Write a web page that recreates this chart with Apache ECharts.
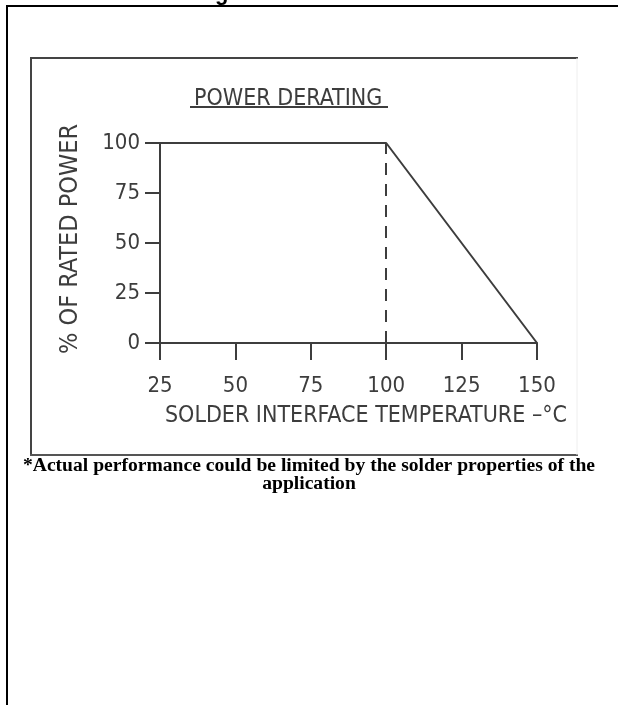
<!DOCTYPE html>
<html>
<head>
<meta charset="utf-8">
<title>Power Derating</title>
<script src="https://cdn.jsdelivr.net/npm/echarts@6/dist/echarts.min.js"></script>
<style>
  html, body { margin: 0; padding: 0; background: #fff; }
  #main { width: 618px; height: 705px; }
</style>
</head>
<body>
<div id="main"></div>
<script>
(function (echarts) {

  'use strict';

  // temperature (degC) -> % of rated power
  var temps = [25, 100, 150];
  var power = [100, 100, 0];
  var kneeTemp = 100;

  var xTicks = [25, 50, 75, 100, 125, 150];
  var yTicks = [0, 25, 50, 75, 100];

  var chartTitle = 'POWER DERATING';
  var xName = 'SOLDER INTERFACE TEMPERATURE –°C';
  var yName = '% OF RATED POWER';
  var footnote = [
    '*Actual performance could be limited by the solder properties of the',
    'application'
  ];

  var ink = '#3d3d3d';
  var cad = '"DejaVu Sans Condensed", "DejaVu Sans", sans-serif';
  var noteFont = 'bold 19.6px "Liberation Serif", "Times New Roman", serif';

  var curve = temps.map(function (t, i) { return [t, power[i]]; });

  echarts.init(document.getElementById('main')).setOption({
    backgroundColor: '#fff',
    animation: false,
    title: {
      text: chartTitle,
      left: 189,
      top: 83,
      textStyle: {color: ink, fontFamily: cad, fontWeight: 'normal', fontSize: 23}
    },
    grid: {left: 160, right: 81, top: 143, bottom: 362},
    xAxis: {
      type: 'value',
      min: xTicks[0],
      max: xTicks[xTicks.length - 1],
      interval: 25,
      name: xName,
      nameLocation: 'middle',
      nameGap: 62,
      nameTextStyle: {color: ink, fontFamily: cad, fontSize: 23, padding: [0, 0, 0, 35]},
      axisLine: {lineStyle: {color: ink, width: 2}},
      axisTick: {length: 17, lineStyle: {color: ink, width: 2}},
      axisLabel: {color: ink, fontFamily: cad, fontSize: 22, margin: 32},
      splitLine: {show: false}
    },
    yAxis: {
      type: 'value',
      min: yTicks[0],
      max: yTicks[yTicks.length - 1],
      interval: 25,
      name: yName,
      nameLocation: 'middle',
      nameGap: 77,
      nameTextStyle: {color: ink, fontFamily: cad, fontSize: 25, padding: [0, 0, 0, 8]},
      axisLine: {show: true, lineStyle: {color: ink, width: 2}},
      axisTick: {show: true, length: 15, lineStyle: {color: ink, width: 2}},
      axisLabel: {color: ink, fontFamily: cad, fontSize: 22, margin: 20},
      splitLine: {show: false}
    },
    series: [{
      type: 'line',
      data: curve,
      symbol: 'none',
      lineStyle: {color: ink, width: 2},
      markLine: {
        silent: true,
        symbol: 'none',
        label: {show: false},
        lineStyle: {color: ink, width: 2, type: [12, 9]},
        data: [{xAxis: kneeTemp}]
      }
    }],
    graphic: [
      // page box
      {type: 'line', shape: {x1: 6, y1: 6, x2: 618, y2: 6}, style: {stroke: '#000', lineWidth: 2}},
      {type: 'line', shape: {x1: 7, y1: 6, x2: 7, y2: 705}, style: {stroke: '#000', lineWidth: 2}},
      // bottom of the heading above, cut by the page edge
      {type: 'text', x: 215, y: -17, style: {text: 'g', fill: '#000', font: 'bold 22px "Liberation Sans", Arial, sans-serif'}},
      // frame of the scanned figure
      {type: 'line', shape: {x1: 30, y1: 58, x2: 578, y2: 58}, style: {stroke: '#444', lineWidth: 2}},
      {type: 'line', shape: {x1: 31, y1: 58, x2: 31, y2: 455}, style: {stroke: '#444', lineWidth: 2}},
      {type: 'line', shape: {x1: 30, y1: 455, x2: 578, y2: 455}, style: {stroke: '#555', lineWidth: 2}},
      {type: 'line', shape: {x1: 577, y1: 58, x2: 577, y2: 455}, style: {stroke: '#eee', lineWidth: 1}},
      // title underline
      {type: 'line', shape: {x1: 190, y1: 107, x2: 388, y2: 107}, style: {stroke: ink, lineWidth: 2}},
      // footnote
      {type: 'text', x: 309, y: 466, style: {text: footnote[0], fill: '#000', align: 'center', verticalAlign: 'middle', font: noteFont}},
      {type: 'text', x: 309, y: 484, style: {text: footnote[1], fill: '#000', align: 'center', verticalAlign: 'middle', font: noteFont}}
    ]
  });
})(window.echarts);
</script>
</body>
</html>
